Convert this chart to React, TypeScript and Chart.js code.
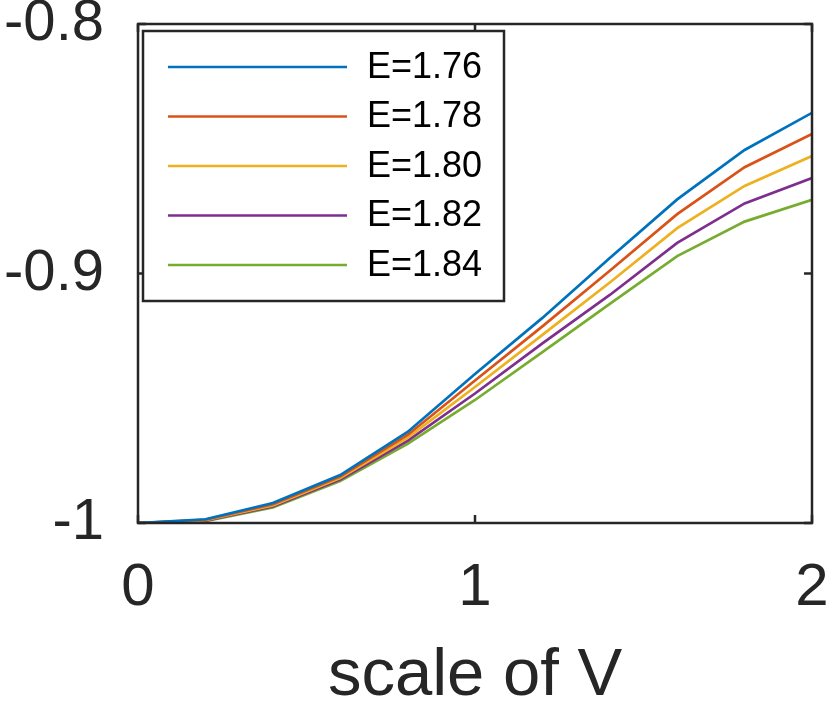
import { useEffect, useRef } from 'react';
import { Chart, registerables, Plugin } from 'chart.js';

Chart.register(...registerables);

// x positions (scale of V)
const xValues = [0, 0.2, 0.4, 0.6, 0.8, 1.0, 1.2, 1.4, 1.6, 1.8, 2.0];

// one curve per energy
const seriesLabels = ['E=1.76', 'E=1.78', 'E=1.80', 'E=1.82', 'E=1.84'];
const e176 = [-1, -0.9985, -0.992, -0.9808, -0.9635, -0.9403, -0.9178, -0.8938, -0.8703, -0.8505, -0.8356];
const e178 = [-1, -0.9987, -0.9925, -0.9814, -0.9647, -0.9429, -0.9212, -0.8989, -0.8762, -0.8574, -0.8441];
const e180 = [-1, -0.9989, -0.993, -0.982, -0.9659, -0.9455, -0.9246, -0.9036, -0.8818, -0.8649, -0.8529];
const e182 = [-1, -0.9991, -0.9934, -0.9826, -0.9671, -0.9481, -0.928, -0.9086, -0.8877, -0.8719, -0.8617];
const e184 = [-1, -0.9993, -0.9938, -0.9832, -0.9683, -0.9507, -0.9315, -0.9122, -0.893, -0.8792, -0.8705];

const xTicks = [0, 1, 2];
const yTicks = [-1, -0.9, -0.8];

// matlab default line colours
const colors = ['#0072BD', '#D95319', '#EDB120', '#7E2F8E', '#77AC30'];
const AXIS = '#262626';
const FONT = "'Liberation Sans', Arial, Helvetica, sans-serif";

// box round the axes plus inward ticks on all four sides
const boxPlugin: Plugin<'line'> = {
  id: 'matlabBox',
  afterDatasetsDraw(chart) {
    const { ctx, chartArea: a, scales } = chart;
    ctx.save();
    ctx.strokeStyle = AXIS;
    ctx.lineWidth = 2.5;
    ctx.strokeRect(a.left, a.top, a.right - a.left, a.bottom - a.top);
    const len = 8;
    ctx.beginPath();
    xTicks.forEach((v) => {
      const px = scales.x.getPixelForValue(v);
      ctx.moveTo(px, a.bottom);
      ctx.lineTo(px, a.bottom - len);
      ctx.moveTo(px, a.top);
      ctx.lineTo(px, a.top + len);
    });
    yTicks.forEach((v) => {
      const py = scales.y.getPixelForValue(v);
      ctx.moveTo(a.left, py);
      ctx.lineTo(a.left + len, py);
      ctx.moveTo(a.right, py);
      ctx.lineTo(a.right - len, py);
    });
    ctx.stroke();
    ctx.restore();
  },
};

// legend drawn inside the upper-left corner, like matlab's 'northwest'
const insideLegend: Plugin<'line'> = {
  id: 'insideLegend',
  afterDraw(chart) {
    const { ctx, chartArea: a } = chart;
    const left = a.left + 5;
    const top = a.top + 7;
    const w = 361;
    const h = 270;
    ctx.save();
    ctx.fillStyle = '#ffffff';
    ctx.fillRect(left, top, w, h);
    ctx.strokeStyle = AXIS;
    ctx.lineWidth = 2.5;
    ctx.strokeRect(left, top, w, h);
    ctx.font = `36px ${FONT}`;
    ctx.textBaseline = 'middle';
    ctx.textAlign = 'left';
    chart.data.datasets.forEach((ds, i) => {
      const y = top + 36 + i * 49.5;
      ctx.strokeStyle = ds.borderColor as string;
      ctx.lineWidth = 2.7;
      ctx.beginPath();
      ctx.moveTo(left + 25, y);
      ctx.lineTo(left + 204, y);
      ctx.stroke();
      ctx.fillStyle = '#000000';
      ctx.fillText(ds.label || '', left + 224, y + 1);
    });
    ctx.restore();
  },
};

export default function App() {
  const canvasRef = useRef<HTMLCanvasElement>(null);
  const chartInstance = useRef<Chart | null>(null);

  useEffect(() => {
    document.body.style.margin = '0';
    if (!canvasRef.current) return;
    if (chartInstance.current) {
      chartInstance.current.destroy();
    }
    const ctx = canvasRef.current.getContext('2d');
    if (!ctx) return;

    const allSeries = [e176, e178, e180, e182, e184];

    chartInstance.current = new Chart(ctx, {
      type: 'line',
      data: {
        datasets: allSeries.map((values, i) => ({
          label: seriesLabels[i],
          data: values.map((y, j) => ({ x: xValues[j], y })),
          borderColor: colors[i],
          backgroundColor: colors[i],
          borderWidth: 2.7,
          pointRadius: 0,
          tension: 0,
        })),
      },
      options: {
        animation: false,
        responsive: true,
        maintainAspectRatio: false,
        layout: { padding: { top: 24, right: 18, left: 0, bottom: 0 } },
        plugins: {
          legend: { display: false },
          tooltip: { enabled: false },
        },
        scales: {
          x: {
            type: 'linear',
            min: 0,
            max: 2,
            afterFit: (scale: any) => {
              scale.height = 184;
              scale.paddingLeft = 0;
              scale.paddingRight = 0;
            },
            afterBuildTicks: (scale) => {
              scale.ticks = xTicks.map((v) => ({ value: v }));
            },
            grid: { display: false, drawTicks: false },
            border: { display: false },
            ticks: {
              padding: 29,
              color: AXIS,
              font: { family: FONT, size: 60 },
              maxRotation: 0,
              callback: (v) => String(v),
            },
            title: {
              display: true,
              text: 'scale of V',
              color: AXIS,
              font: { family: FONT, size: 67, lineHeight: 0.9 },
              padding: { top: 0, bottom: 0 },
            },
          },
          y: {
            min: -1,
            max: -0.8,
            afterFit: (scale: any) => {
              scale.width = 138;
              scale.paddingTop = 0;
              scale.paddingBottom = 0;
            },
            afterBuildTicks: (scale) => {
              scale.ticks = yTicks.map((v) => ({ value: v }));
            },
            grid: { display: false, drawTicks: false },
            border: { display: false },
            ticks: {
              padding: 34,
              color: AXIS,
              font: { family: FONT, size: 58 },
              callback: (v) => String(Number(Number(v).toFixed(2))),
            },
          },
        },
      },
      plugins: [boxPlugin, insideLegend],
    });

    return () => {
      if (chartInstance.current) {
        chartInstance.current.destroy();
        chartInstance.current = null;
      }
    };
  }, []);

  return (
    <div style={{ position: 'relative', width: 830, height: 707 }}>
      <canvas ref={canvasRef}></canvas>
    </div>
  );
}
